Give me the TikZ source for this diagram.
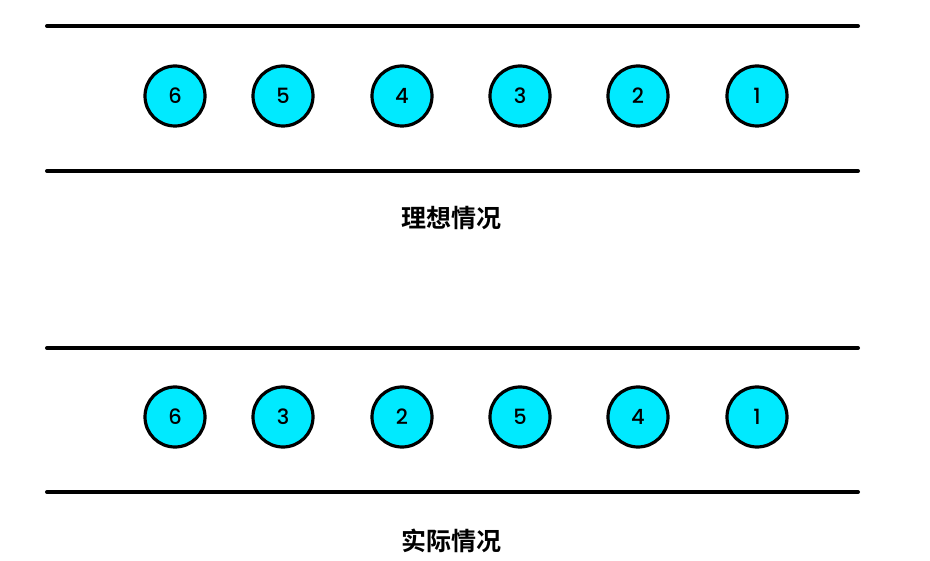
\documentclass[tikz,border=0pt]{standalone}
\usepackage{fontspec}
\setsansfont{Poppins}[UprightFont={* Medium}]
\newfontfamily\cjk{Noto Sans CJK SC}[BoldFont={* Bold}]
\definecolor{ballcyan}{RGB}{0,234,255}

\begin{document}
\begin{tikzpicture}[x=1pt,y=1pt,yscale=-1,xscale=1]
\tikzset{
  ball/.style={circle,draw=black,line width=3.2pt,fill=ballcyan,minimum size=60pt,inner sep=0pt,font=\sffamily\fontsize{21}{21}\selectfont},
  rail/.style={line width=4pt,line cap=round},
  caption/.style={font=\cjk\bfseries\fontsize{25}{25}\selectfont}
}
\useasboundingbox (0,0) rectangle (930,561);

%Straight Lines (ideal case)
\coordinate (ta1) at (47,26);
\coordinate (ta2) at (858,26);
\coordinate (tb1) at (47,171);
\coordinate (tb2) at (858,171);
\draw[rail] (ta1) -- (ta2);
\draw[rail] (tb1) -- (tb2);

%Circles (ideal case)
\node[ball] (i6) at (175,96) {6};
\node[ball] (i5) at (283,96) {5};
\node[ball] (i4) at (402,96) {4};
\node[ball] (i3) at (520,96) {3};
\node[ball] (i2) at (638,96) {2};
\node[ball] (i1) at (757,96) {1};

% Text Node
\node[caption] (ideal) at (451,218) {理想情况};

%Straight Lines (actual case)
\coordinate (ba1) at (47,348);
\coordinate (ba2) at (858,348);
\coordinate (bb1) at (47,492);
\coordinate (bb2) at (858,492);
\draw[rail] (ba1) -- (ba2);
\draw[rail] (bb1) -- (bb2);

%Circles (actual case)
\node[ball] (a6) at (175,417) {6};
\node[ball] (a3) at (283,417) {3};
\node[ball] (a2) at (402,417) {2};
\node[ball] (a5) at (520,417) {5};
\node[ball] (a4) at (638,417) {4};
\node[ball] (a1) at (757,417) {1};

% Text Node
\node[caption] (actual) at (451,541) {实际情况};

\end{tikzpicture}
\end{document}
